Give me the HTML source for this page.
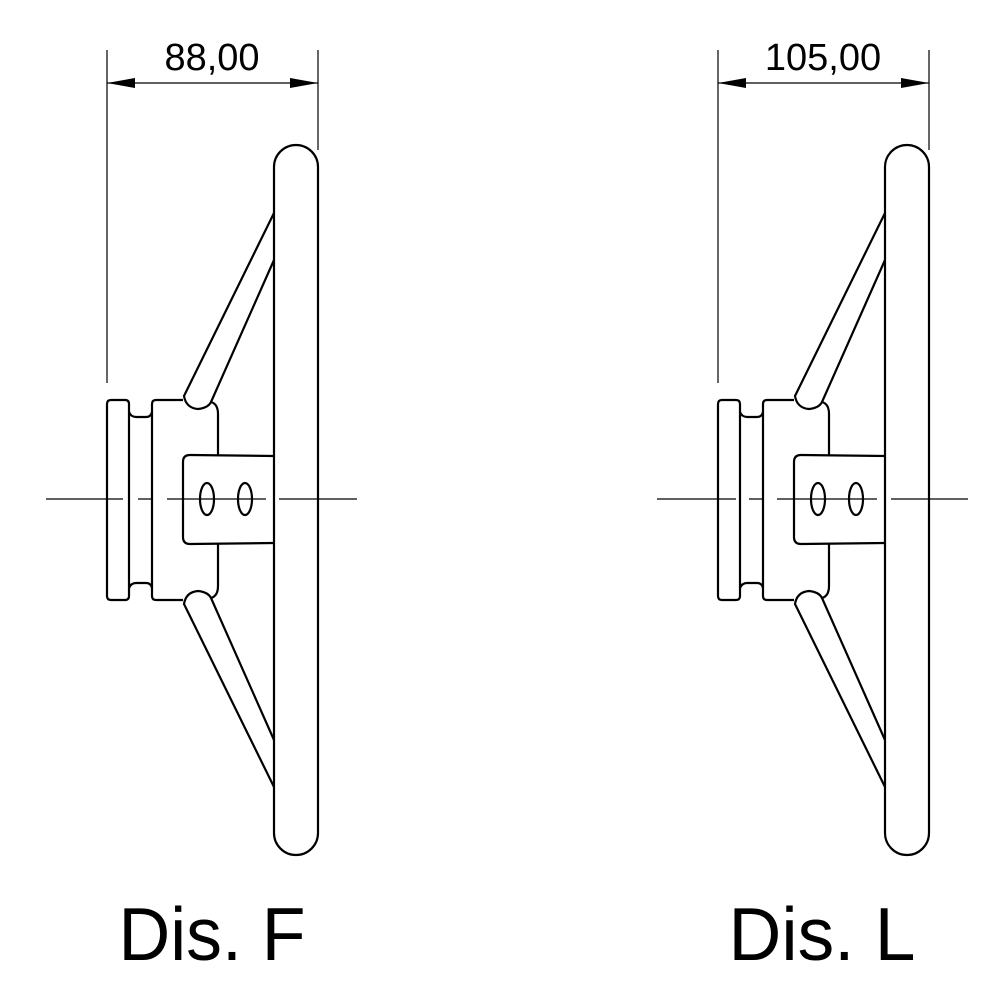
<!DOCTYPE html>
<html><head><meta charset="utf-8"><style>html,body{margin:0;padding:0;background:#fff}svg{display:block}</style></head>
<body>
<svg width="1000" height="1000" viewBox="0 0 1000 1000" xmlns="http://www.w3.org/2000/svg">
<defs>
<g id="wheel" fill="none" stroke="#000" stroke-width="2.2" stroke-linejoin="round">
  <!-- rim -->
  <path d="M274,167 A22,22 0 0 1 318,167 L318,833 A22,22 0 0 1 274,833 Z"/>
  <!-- disc -->
  <path d="M111,400 L125,400 Q129,400 129,404 L129,596 Q129,600 125,600 L111,600 Q107,600 107,596 L107,404 Q107,400 111,400 Z"/>
  <!-- neck -->
  <path d="M129,412 Q131,417 136,417 L146,417 Q151,417 152,412"/>
  <path d="M129,588 Q131,583 136,583 L146,583 Q151,583 152,588"/>
  <!-- hub -->
  <path d="M156,400 L183,400 M211,402 Q218,404 218,414 L218,456 M218,543 L218,586 Q218,596 211,598 M183,600 L156,600 Q152,600 152,596 L152,404 Q152,400 156,400"/>
  <!-- tab -->
  <path d="M274,456 L190,455 Q183,455 183,462 L183,537 Q183,544 190,544 L274,543"/>
  <ellipse cx="207" cy="499" rx="7" ry="16"/>
  <ellipse cx="245" cy="499" rx="7" ry="16"/>
  <!-- spokes -->
  <path d="M274,213 L184,396 Q186,408 198,409 Q208,408 211,402 L274,260"/>
  <path d="M274,787 L184,604 Q186,592 198,591 Q208,592 211,598 L274,740"/>
</g>
</defs>
<use href="#wheel"/>
<use href="#wheel" transform="translate(611,0)"/>
<g stroke="#000" stroke-width="1.2">
  <!-- centerlines -->
  <path d="M46,499 H123 M138,499 H151 M167,499 H266 M279,499 H357"/>
  <path d="M657,499 H736 M749,499 H763 M777,499 H877 M891,499 H968"/>
  <!-- dimension F -->
  <path d="M107,50 V383 M318,50 V150 M107,83 H318"/>
  <path d="M718,50 V383 M929,50 V150 M718,83 H929"/>
</g>
<g fill="#000">
  <path d="M107,83 L135,78 L135,88 Z"/>
  <path d="M318,83 L290,78 L290,88 Z"/>
  <path d="M718,83 L746,78 L746,88 Z"/>
  <path d="M929,83 L901,78 L901,88 Z"/>
</g>
<g font-family="Liberation Sans, sans-serif" fill="#000" text-anchor="middle">
  <text x="212" y="70" font-size="38">88,00</text>
  <text x="823" y="70" font-size="38">105,00</text>
  <text x="212" y="960" font-size="75" textLength="187" lengthAdjust="spacingAndGlyphs">Dis. F</text>
  <text x="822" y="960" font-size="75" textLength="187" lengthAdjust="spacingAndGlyphs">Dis. L</text>
</g>
</svg>
</body></html>
